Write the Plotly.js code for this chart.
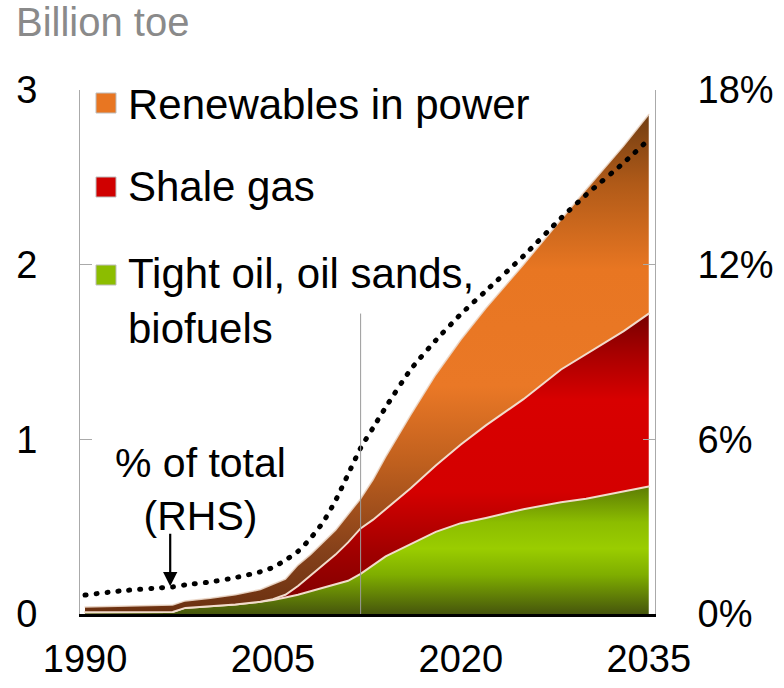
<!DOCTYPE html>
<html><head><meta charset="utf-8">
<script src="https://cdn.plot.ly/plotly-3.0.1.min.js"></script>
<style>
html,body{margin:0;padding:0;background:#fff;}
#chart{width:784px;height:688px;}
.scatterlayer .js-line{stroke-linecap:round !important;}
</style></head><body><div id="chart"></div>
<script>
// ---- data ----
const years       = [1990,1993,1996,1997,1998,2000,2002,2004,2005,2006,2007,2008,2009,2010,2011,2012,2013,2014,2016,2018,2020,2022,2025,2028,2030,2033,2035];
const tightOil    = [0.01,0.01,0.01,0.012,0.035,0.045,0.055,0.07,0.08,0.095,0.11,0.13,0.15,0.17,0.19,0.23,0.28,0.33,0.40,0.47,0.52,0.55,0.60,0.64,0.66,0.70,0.73];
const shaleGas    = [0,0,0,0,0,0,0,0,0.005,0.015,0.05,0.09,0.13,0.17,0.22,0.26,0.26,0.27,0.32,0.38,0.45,0.53,0.63,0.76,0.83,0.92,0.99];
const renewables  = [0.03,0.035,0.04,0.04,0.04,0.045,0.055,0.07,0.085,0.09,0.12,0.12,0.13,0.14,0.16,0.17,0.23,0.30,0.42,0.52,0.60,0.67,0.77,0.86,0.94,1.06,1.14];
const pctOfTotal  = [0.65,0.8,0.9,0.93,1.0,1.1,1.25,1.45,1.6,1.85,2.15,2.6,3.15,3.9,4.8,5.7,6.4,7.1,8.4,9.4,10.3,11.1,12.3,13.6,14.4,15.5,16.3];
const xTicks  = [1990,2005,2020,2035];
const yTicks  = [0,1,2,3];
const y2Ticks = [0,6,12,18];
const y2TickText = ['0%','6%','12%','18%'];
const seriesNames = ['Tight oil, oil sands,<br>biofuels','Shale gas','Renewables in power'];
const historyEndYear = 2012;
const historyLineTop = 1.72;
const arrowYear = 1996.8, arrowPct = 0.95;

const FONT = 'Arial, "Liberation Sans", Helvetica, sans-serif';
const sep = '#f2dccc';

const traces = [
  {x: years, y: tightOil, name: seriesNames[0], type:'scatter', mode:'lines', stackgroup:'one',
   line:{color:sep, width:2},
   fillgradient:{type:'vertical', start:0, stop:0.75,
     colorscale:[[0,'#46560c'],[0.3,'#7fae00'],[0.5,'#9acd00'],[0.7,'#8cbd00'],[1,'#587605']]}},
  {x: years, y: shaleGas, name: seriesNames[1], type:'scatter', mode:'lines', stackgroup:'one',
   line:{color:sep, width:2},
   fillgradient:{type:'vertical', start:0, stop:1.75,
     colorscale:[[0,'#7a0000'],[0.2,'#a00000'],[0.4,'#d40000'],[0.7,'#d80000'],[0.85,'#a80000'],[1,'#700000']]}},
  {x: years, y: renewables, name: seriesNames[2], type:'scatter', mode:'lines', stackgroup:'one',
   line:{color:'rgba(235,215,200,0.9)', width:1.5},
   fillgradient:{type:'vertical', start:0, stop:2.9,
     colorscale:[[0,'#6a3010'],[0.12,'#84401a'],[0.3,'#c0601e'],[0.45,'#ea7826'],[0.68,'#e87622'],[0.85,'#b05a18'],[1,'#6a3a12']]}},
  {x: years, y: pctOfTotal, name:'% of total (RHS)', type:'scatter', mode:'lines', yaxis:'y2',
   line:{color:'#000', width:5, dash:'1px,10px', shape:'spline', smoothing:0.6}}
];

function px2paperX(p){ return (p-80)/575; }
function px2paperY(p){ return (614-p)/524; }

const legendColors = ['#8cbd00','#d00000','#e87622'];
const legendY = [275, 187, 103];
const shapes = [
  {type:'line', xref:'x', yref:'y', x0:historyEndYear, x1:historyEndYear, y0:0, y1:historyLineTop,
   line:{color:'#9a9a9a', width:1}, layer:'above'}
];
legendY.forEach((py,i)=>{
  shapes.push({type:'rect', xref:'paper', yref:'paper',
    x0:px2paperX(96), x1:px2paperX(116), y0:px2paperY(py+10), y1:px2paperY(py-10),
    fillcolor:legendColors[i], line:{color:'#bdbdbd', width:1}, layer:'above'});
});

const annotations = [
  {text:'Billion toe', xref:'paper', yref:'paper', x:px2paperX(14), y:px2paperY(22), xanchor:'left', yanchor:'middle',
   showarrow:false, font:{family:FONT, size:40, color:'#8a8a8a'}},
  {text:seriesNames[2], xref:'paper', yref:'paper', x:px2paperX(126), y:px2paperY(104), xanchor:'left', yanchor:'middle',
   showarrow:false, font:{family:FONT, size:42, color:'#000'}},
  {text:seriesNames[1], xref:'paper', yref:'paper', x:px2paperX(126), y:px2paperY(187), xanchor:'left', yanchor:'middle',
   showarrow:false, font:{family:FONT, size:42, color:'#000'}},
  {text:seriesNames[0], xref:'paper', yref:'paper', x:px2paperX(126), y:px2paperY(301), xanchor:'left', yanchor:'middle', align:'left',
   showarrow:false, font:{family:FONT, size:42, color:'#000'}},
  {text:'% of total<br>(RHS)', xref:'paper', yref:'paper', x:px2paperX(200), y:px2paperY(489), xanchor:'center', yanchor:'middle', align:'center',
   showarrow:false, font:{family:FONT, size:41, color:'#000'}},
  {text:'', xref:'x', yref:'y2', x:arrowYear, y:arrowPct, showarrow:true, ax:0, ay:-54,
   arrowhead:2, arrowsize:1.3, arrowwidth:2.2, arrowcolor:'#000', standoff:0}
];

const layout = {
  width:784, height:688,
  margin:{l:80, r:129, t:90, b:74, pad:0},
  paper_bgcolor:'#fff', plot_bgcolor:'rgba(0,0,0,0)',
  showlegend:false,
  font:{family:FONT, size:38, color:'#000'},
  xaxis:{range:[1989.6,2035.5], tickvals:xTicks, ticks:'', showgrid:false, zeroline:false,
    showline:true, linecolor:'#000', linewidth:2.5, tickfont:{family:FONT, size:38, color:'#000'},
    ticklabelstandoff:10, fixedrange:true},
  yaxis:{range:[0,3], tickvals:yTicks, ticks:'inside', ticklen:12, tickcolor:'#aaaaaa', tickwidth:1,
    showgrid:false, zeroline:false, showline:true, linecolor:'#aaaaaa', linewidth:1,
    tickfont:{family:FONT, size:38, color:'#000'}, ticklabelstandoff:34, fixedrange:true},
  yaxis2:{range:[0,18], overlaying:'y', side:'right', tickvals:y2Ticks, ticktext:y2TickText,
    ticks:'inside', ticklen:12, tickcolor:'#aaaaaa', tickwidth:1,
    showgrid:false, zeroline:false, showline:true, linecolor:'#aaaaaa', linewidth:1,
    tickfont:{family:FONT, size:38, color:'#000'}, ticklabelstandoff:34, fixedrange:true},
  shapes:shapes,
  annotations:annotations
};

Plotly.newPlot('chart', traces, layout, {displayModeBar:false, staticPlot:true});
</script></body></html>
